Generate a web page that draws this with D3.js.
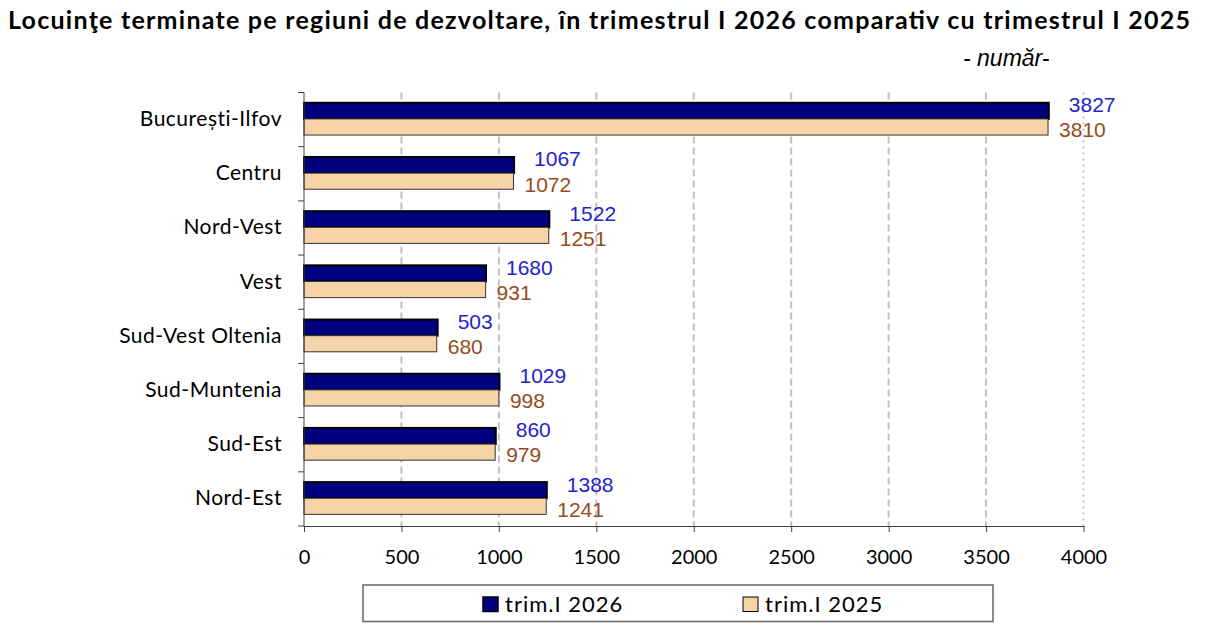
<!DOCTYPE html>
<html>
<head>
<meta charset="utf-8">
<script src="https://cdn.jsdelivr.net/npm/d3@7"></script>
<style>
  body { margin: 0; background: #fff; }
  svg { display: block; }
</style>
</head>
<body>
<div id="chart"></div>
<script>
// Regions, top to bottom
const regions = ["București-Ilfov", "Centru", "Nord-Vest", "Vest", "Sud-Vest Oltenia", "Sud-Muntenia", "Sud-Est", "Nord-Est"];

// Values printed next to the bars
const labels2026 = [3827, 1067, 1522, 1680, 503, 1029, 860, 1388];
const labels2025 = [3810, 1072, 1251, 931, 680, 998, 979, 1241];

// Bar lengths as drawn in the picture (the dark bars follow the 2025 figures)
const bars2026 = [3822, 1078, 1259, 934, 686, 1003, 984, 1246];
const bars2025 = [3818, 1075, 1256, 932, 681, 1000, 981, 1243];

const xTicks = [0, 500, 1000, 1500, 2000, 2500, 3000, 3500, 4000];
const seriesNames = ["trim.I 2026", "trim.I 2025"];

const colors = { "trim.I 2026": "#000080", "trim.I 2025": "#F6D4A7" };
const labelColors = { "trim.I 2026": "#2323CC", "trim.I 2025": "#964B20" };

const W = 1218, H = 639;
const svg = d3.select("#chart").append("svg")
    .attr("width", W)
    .attr("height", H);

// Title
svg.append("text")
    .attr("x", 599)
    .attr("y", 28.5)
    .attr("text-anchor", "middle")
    .attr("textLength", 1182)
    .attr("lengthAdjust", "spacing")
    .style("font-family", "Lato, sans-serif")
    .style("font-weight", "bold")
    .style("font-size", "25px")
    .text("Locuinţe terminate pe regiuni de dezvoltare, în trimestrul I 2026 comparativ cu trimestrul I 2025");

svg.append("text")
    .attr("x", 963)
    .attr("y", 66)
    .style("font-family", "'Liberation Sans', Arial, sans-serif")
    .style("font-style", "italic")
    .style("font-size", "23px")
    .text("- număr-");

// Scales
const x = d3.scaleLinear().domain([0, 4000]).range([304, 1083.5]);
const y = d3.scaleBand().domain(regions).range([92.5, 526]).padding(0);
const bw = y.bandwidth();
const ySub = d3.scaleBand().domain(seriesNames).range([0.19 * bw, 0.785 * bw]).padding(0);

const data = regions.map((r, i) => ({
    region: r,
    values: [
        { series: seriesNames[0], bar: bars2026[i], label: labels2026[i] },
        { series: seriesNames[1], bar: bars2025[i], label: labels2025[i] }
    ]
}));

// Gridlines
svg.append("g")
    .selectAll("line")
    .data(xTicks.slice(1))
    .enter().append("line")
    .attr("x1", d => x(d))
    .attr("x2", d => x(d))
    .attr("y1", 92.5)
    .attr("y2", 526)
    .attr("stroke", "#C0C0C0")
    .attr("stroke-width", 2)
    .attr("stroke-dasharray", d => d === 4000 ? "2,4" : "7,4");

// Bars
const groups = svg.append("g")
    .selectAll("g")
    .data(data)
    .enter().append("g")
    .attr("transform", d => `translate(0,${y(d.region)})`);

groups.selectAll("rect")
    .data(d => d.values)
    .enter().append("rect")
    .attr("x", x(0))
    .attr("y", d => ySub(d.series))
    .attr("width", d => x(d.bar) - x(0))
    .attr("height", ySub.bandwidth())
    .attr("fill", d => colors[d.series])
    .attr("stroke", d => d.series === seriesNames[0] ? "#000" : "#333")
    .attr("stroke-width", d => d.series === seriesNames[0] ? 2 : 1);

// Value labels
groups.selectAll("text")
    .data(d => d.values)
    .enter().append("text")
    .attr("x", d => x(d.bar) + (d.series === seriesNames[0] ? 20 : 11))
    .attr("y", d => ySub(d.series) + ySub.bandwidth() / 2 + (d.series === seriesNames[0] ? -6 : 3))
    .attr("dy", "0.35em")
    .attr("fill", d => labelColors[d.series])
    .style("font-family", "'Liberation Sans', Arial, sans-serif")
    .style("font-size", "21px")
    .text(d => d.label);

// X axis
const xAxis = svg.append("g")
    .attr("transform", "translate(0,526)")
    .call(d3.axisBottom(x).tickValues(xTicks).tickFormat(d3.format("d"))
        .tickSize(6).tickPadding(18).tickSizeOuter(0));
xAxis.select(".domain").attr("stroke", "#404040");
xAxis.selectAll(".tick line").attr("stroke", "#404040");
xAxis.selectAll("text")
    .style("font-family", "Lato, sans-serif")
    .style("font-size", "20px")
    .attr("fill", "#000");

// Y axis line and ticks at category boundaries
const yAxis = svg.append("g");
yAxis.append("line")
    .attr("x1", x(0)).attr("x2", x(0))
    .attr("y1", 92.5).attr("y2", 526)
    .attr("stroke", "#404040");
const boundaries = regions.map(r => y(r)).concat([y.range()[1]]);
yAxis.selectAll(".bt")
    .data(boundaries)
    .enter().append("line")
    .attr("x1", x(0) - 6).attr("x2", x(0))
    .attr("y1", d => d).attr("y2", d => d)
    .attr("stroke", "#404040");
yAxis.selectAll("text")
    .data(regions)
    .enter().append("text")
    .attr("x", 282)
    .attr("y", d => y(d) + bw / 2 - 1)
    .attr("dy", "0.35em")
    .attr("text-anchor", "end")
    .style("font-family", "Lato, sans-serif")
    .style("font-size", "21px")
    .style("letter-spacing", "0.5px")
    .text(d => d);

// Legend
const legend = svg.append("g");
legend.append("rect")
    .attr("x", 363).attr("y", 585)
    .attr("width", 630).attr("height", 36.5)
    .attr("fill", "#fff")
    .attr("stroke", "#666")
    .attr("stroke-width", 1.5);
const legendX = [483, 743];
seriesNames.forEach((s, i) => {
    legend.append("rect")
        .attr("x", legendX[i]).attr("y", 597)
        .attr("width", 15).attr("height", 14.5)
        .attr("fill", colors[s])
        .attr("stroke", "#000")
        .attr("stroke-width", i === 0 ? 1.5 : 1);
    legend.append("text")
        .attr("x", legendX[i] + 22)
        .attr("y", 611.5)
        .style("font-family", "Lato, sans-serif")
        .style("font-size", "22px")
        .style("letter-spacing", "1px")
        .text(s);
});
</script>
</body>
</html>
